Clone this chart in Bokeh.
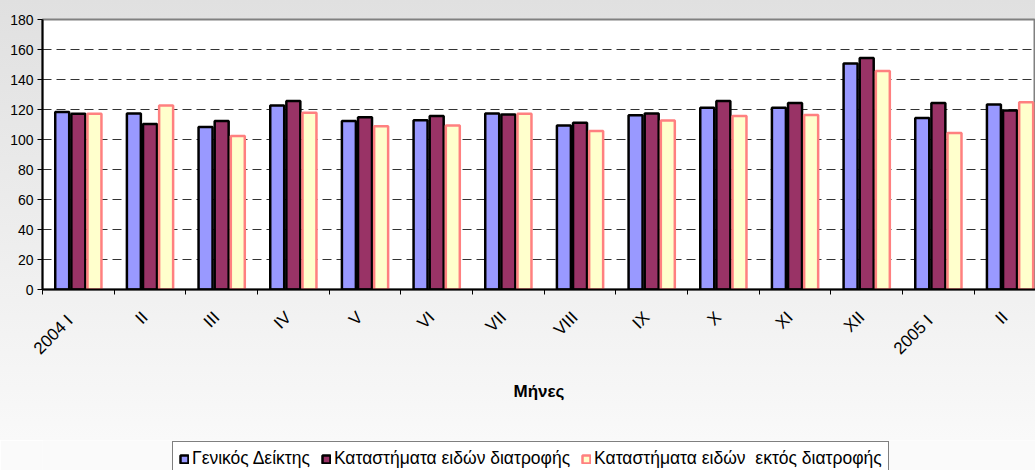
from bokeh.plotting import figure
from bokeh.models import Range1d, FixedTicker, Legend, LegendItem, ColumnDataSource
from bokeh.layouts import column
from bokeh.embed import file_html
from bokeh.resources import INLINE
import math

months = ["2004  I", "II", "III", "IV", "V", "VI", "VII", "VIII", "IX", "X", "XI", "XII", "2005  I", "II"]
general = [118.3, 117.4, 108.3, 122.7, 112.3, 112.9, 117.4, 109.4, 116.1, 121.1, 121.1, 150.7, 114.4, 123.4]
food = [117.1, 110.4, 112.3, 125.6, 114.9, 115.6, 116.7, 111.1, 117.4, 125.6, 124.3, 154.4, 124.3, 119.4]
nonfood = [117.1, 122.7, 102.3, 117.8, 108.9, 109.4, 117.1, 105.6, 112.7, 115.6, 116.3, 145.6, 104.4, 124.9]
legend_labels = ["Γενικός Δείκτης", "Καταστήματα ειδών διατροφής", "Καταστήματα ειδών  εκτός διατροφής"]
y_ticks = [0, 20, 40, 60, 80, 100, 120, 140, 160, 180]

n = len(months)
centers = [i + 0.5 for i in range(n)]
label_pos = [c - 0.07 for c in centers]
src = ColumnDataSource(dict(
    x=centers, x1=[c - 0.225 for c in centers], x3=[c + 0.225 for c in centers],
    general=general, food=food, nonfood=nonfood))

styles = [
    dict(top="general", x="x1", fill_color="#9999ff", line_color="black"),
    dict(top="food", x="x", fill_color="#993366", line_color="black"),
    dict(top="nonfood", x="x3", fill_color="#ffffcc", line_color="#ff8080"),
]

# ---------------- main chart ----------------
p = figure(width=1035, height=440, frame_width=993, frame_height=270,
           x_range=Range1d(0, 993 / 71.67), y_range=Range1d(0, 180),
           output_backend="svg", toolbar_location=None,
           min_border_left=42, min_border_right=0, min_border_top=19, min_border_bottom=151)

p.background_fill_color = "white"
p.border_fill_color = "#efefef"
p.styles = {"background": "linear-gradient(#e0e0e0, #f9f9f9)"}
p.border_fill_alpha = 0.0
p.outline_line_color = "#808080"
p.outline_line_width = 2

for s in styles:
    p.vbar(x=s["x"], top=s["top"], width=0.195, source=src, fill_color=s["fill_color"],
           line_color=s["line_color"], line_width=2.5)

p.xaxis.ticker = FixedTicker(ticks=label_pos, minor_ticks=list(range(n + 1)))
p.xaxis.major_label_overrides = {c: m for c, m in zip(label_pos, months)}
p.xaxis.major_label_orientation = math.pi / 4
p.xaxis.major_tick_line_color = None
p.xaxis.minor_tick_line_color = "black"
p.xaxis.minor_tick_out = 5
p.xaxis.minor_tick_in = 0
p.xaxis.axis_line_color = "black"
p.xaxis.axis_line_width = 2
p.xaxis.major_label_text_font = "Liberation Sans"
p.xaxis.major_label_text_font_size = "17px"
p.xaxis.major_label_text_color = "black"
p.xaxis.major_label_standoff = 19
p.xaxis.axis_label = "Μήνες"
p.xaxis.axis_label_text_font = "Liberation Sans"
p.xaxis.axis_label_text_font_style = "bold"
p.xaxis.axis_label_text_font_size = "17px"
p.xaxis.axis_label_text_color = "black"
p.xaxis.axis_label_standoff = 14

p.yaxis.ticker = FixedTicker(ticks=y_ticks)
p.yaxis.minor_tick_line_color = None
p.yaxis.major_tick_out = 5
p.yaxis.major_tick_in = 0
p.yaxis.major_tick_line_color = "black"
p.yaxis.axis_line_color = "black"
p.yaxis.axis_line_width = 2
p.yaxis.major_label_text_font = "Liberation Sans"
p.yaxis.major_label_text_font_size = "14px"
p.yaxis.major_label_text_color = "black"
p.yaxis.major_label_standoff = 4

p.xgrid.grid_line_color = None
p.ygrid.grid_line_color = "#333333"
p.ygrid.grid_line_dash = "9 5"
p.ygrid.grid_line_width = 1

# ---------------- legend strip ----------------
p2 = figure(width=1035, height=30, frame_width=1035, frame_height=30,
            x_range=Range1d(-100, -99), y_range=Range1d(0, 1),
            output_backend="svg", toolbar_location=None,
            x_axis_location=None, y_axis_location=None,
            min_border=0)
p2.background_fill_color = "#fafafa"
p2.border_fill_color = "#fafafa"
p2.outline_line_color = None
p2.grid.visible = False

rs = []
for s in styles:
    rs.append(p2.vbar(x=s["x"], top=s["top"], width=0.195, source=src, fill_color=s["fill_color"],
                      line_color=s["line_color"], line_width=2.5))

legend = Legend(items=[LegendItem(label=lab, renderers=[r]) for lab, r in zip(legend_labels, rs)],
                orientation="horizontal", location=(172, -6),
                glyph_width=10, glyph_height=10, label_standoff=3, spacing=11,
                padding=6, margin=0,
                label_text_font="Liberation Sans", label_text_font_size="17.5px",
                label_text_color="black", label_height=16,
                border_line_color="black", border_line_width=1,
                background_fill_color="white", background_fill_alpha=1.0)
p2.add_layout(legend, "center")

layout = column(p, p2, spacing=0)
open("out.html", "w").write(file_html(layout, INLINE))
